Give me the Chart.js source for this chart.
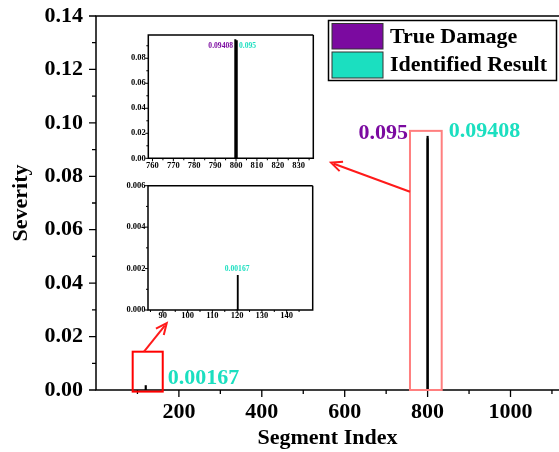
<!DOCTYPE html>
<html>
<head>
<meta charset="utf-8">
<script src="https://cdn.jsdelivr.net/npm/chart.js"></script>
<style>
  html, body { margin: 0; padding: 0; background: #fff; overflow: hidden; }
  #wrap { position: relative; width: 559px; height: 452px; }
  canvas { position: absolute; }
</style>
</head>
<body>
<div id="wrap">
  <canvas id="main" width="559" height="452" style="left:0;top:0"></canvas>
  <canvas id="inset1" width="220" height="150" style="left:105px;top:28px"></canvas>
  <canvas id="inset2" width="220" height="150" style="left:105px;top:178px"></canvas>
</div>
<script>
// data
const segments = [120, 800];
const trueDamage = [0, 0.095];
const identified = [0.00167, 0.09408];

// tick labels
const mainXTicks = [200, 400, 600, 800, 1000];
const mainXMinor = [100, 300, 500, 700, 900, 1100];
const mainYTicks = [0, 0.02, 0.04, 0.06, 0.08, 0.10, 0.12, 0.14];
const mainYMinor = [0.01, 0.03, 0.05, 0.07, 0.09, 0.11, 0.13];
const in1XTicks = [760, 770, 780, 790, 800, 810, 820, 830];
const in1XMinor = [765, 775, 785, 795, 805, 815, 825, 835];
const in1YTicks = [0, 0.02, 0.04, 0.06, 0.08];
const in1YMinor = [0.01, 0.03, 0.05, 0.07, 0.09];
const in2XTicks = [90, 100, 110, 120, 130, 140];
const in2XMinor = [85, 95, 105, 115, 125, 135, 145];
const in2YTicks = [0, 0.002, 0.004, 0.006];
const in2YMinor = [0.001, 0.003, 0.005];

const PURPLE = "#7B0AA0";
const CYAN = "#1BDFC0";
const FONT = "'Liberation Serif', 'Times New Roman', serif";

const pts = (vals) => segments.map((s, i) => ({ x: s, y: vals[i] }));

// frame lines + major/minor ticks
const frameTicks = {
  id: "frameTicks",
  afterDatasetsDraw(chart, args, o) {
    const { ctx, chartArea: a, scales: { x, y } } = chart;
    ctx.save();
    ctx.strokeStyle = "#000";
    ctx.lineWidth = o.lineWidth;
    ctx.beginPath();
    ctx.moveTo(a.right, a.top);
    ctx.lineTo(a.left, a.top);
    ctx.lineTo(a.left, a.bottom);
    ctx.lineTo(a.right, a.bottom);
    if (o.box) ctx.lineTo(a.right, a.top);
    ctx.stroke();
    ctx.lineWidth = o.tickWidth;
    ctx.beginPath();
    const tx = (vals, len) => vals.forEach((v) => {
      const p = x.getPixelForValue(v);
      if (p < a.left - 0.5 || p > a.right + 0.5) return;
      ctx.moveTo(p, a.bottom); ctx.lineTo(p, a.bottom + len);
    });
    const ty = (vals, len) => vals.forEach((v) => {
      const p = y.getPixelForValue(v);
      if (p < a.top - 0.5 || p > a.bottom + 0.5) return;
      ctx.moveTo(a.left, p); ctx.lineTo(a.left - len, p);
    });
    tx(x.ticks.map((t) => t.value), o.major);
    ty(y.ticks.map((t) => t.value), o.major);
    tx(o.xMinor, o.minor);
    ty(o.yMinor, o.minor);
    ctx.stroke();
    ctx.restore();
  },
};

function arrow(ctx, x1, y1, x2, y2) {
  const ang = Math.atan2(y2 - y1, x2 - x1);
  const hl = 11, hw = 5;
  ctx.beginPath();
  ctx.moveTo(x1, y1);
  ctx.lineTo(x2 - Math.cos(ang) * 3, y2 - Math.sin(ang) * 3);
  ctx.stroke();
  ctx.beginPath();
  ctx.moveTo(x2 - Math.cos(ang) * hl + Math.sin(ang) * hw, y2 - Math.sin(ang) * hl - Math.cos(ang) * hw);
  ctx.lineTo(x2, y2);
  ctx.lineTo(x2 - Math.cos(ang) * hl - Math.sin(ang) * hw, y2 - Math.sin(ang) * hl + Math.cos(ang) * hw);
  ctx.stroke();
}

// boxes, arrows, value labels, legend on the main chart
const mainNotes = {
  id: "mainNotes",
  afterDraw(chart) {
    const { ctx, chartArea: a, scales: { x, y } } = chart;
    ctx.save();
    // zoom boxes
    const b1 = { l: x.getPixelForValue(88.5), r: x.getPixelForValue(161), t: y.getPixelForValue(0.01434), b: y.getPixelForValue(-0.0006) };
    const b2 = { l: x.getPixelForValue(757.5), r: x.getPixelForValue(834), t: y.getPixelForValue(0.097), b: y.getPixelForValue(0) };
    ctx.lineWidth = 2;
    ctx.strokeStyle = "#ff0000";
    ctx.strokeRect(b1.l, b1.t, b1.r - b1.l, b1.b - b1.t);
    ctx.strokeStyle = "#ff7f7f";
    ctx.strokeRect(b2.l, b2.t, b2.r - b2.l, b2.b - b2.t);

    // arrows to the insets
    ctx.strokeStyle = "#ff1a1a";
    ctx.lineWidth = 2;
    arrow(ctx, b2.l, y.getPixelForValue(0.0742), x.getPixelForValue(567), y.getPixelForValue(0.0851));
    arrow(ctx, x.getPixelForValue(115.8), b1.t, x.getPixelForValue(170.6), y.getPixelForValue(0.025));

    // value labels
    ctx.font = "bold 22px " + FONT;
    ctx.textBaseline = "alphabetic";
    ctx.fillStyle = PURPLE;
    ctx.textAlign = "right";
    ctx.fillText("0.095", b2.l - 2, b2.t + 8);
    ctx.fillStyle = CYAN;
    ctx.textAlign = "left";
    ctx.fillText("0.09408", b2.r + 7, b2.t + 6);
    ctx.fillText("0.00167", b1.r + 5, a.bottom - 6.5);

    // legend
    const lx = 328.5, ly = 20.5, lw = 228, lh = 60;
    ctx.fillStyle = "#fff";
    ctx.fillRect(lx, ly, lw, lh);
    ctx.strokeStyle = "#000";
    ctx.lineWidth = 1.5;
    ctx.strokeRect(lx, ly, lw, lh);
    ctx.lineWidth = 1;
    ctx.strokeStyle = "#333";
    ctx.fillStyle = PURPLE;
    ctx.fillRect(332, 23.5, 51, 25.5);
    ctx.strokeRect(332, 23.5, 51, 25.5);
    ctx.fillStyle = CYAN;
    ctx.fillRect(332, 52, 51, 26);
    ctx.strokeRect(332, 52, 51, 26);
    ctx.fillStyle = "#000";
    ctx.textAlign = "left";
    ctx.textBaseline = "middle";
    ctx.font = "bold 22px " + FONT;
    ctx.fillText("True Damage", 390, 37.5);
    ctx.fillText("Identified Result", 390, 65.5);
    ctx.restore();
  },
};

// small value labels inside the insets
const insetNotes = {
  id: "insetNotes",
  afterDraw(chart, args, o) {
    const { ctx, scales: { x, y } } = chart;
    ctx.save();
    ctx.font = "bold 7.6px " + FONT;
    ctx.textBaseline = "middle";
    o.labels.forEach((l) => {
      ctx.fillStyle = l.color;
      ctx.textAlign = l.align;
      ctx.fillText(l.text, x.getPixelForValue(l.x) + l.dx, y.getPixelForValue(l.y) + l.dy);
    });
    ctx.restore();
  },
};

function barSets(thickness, grouped) {
  return [
    { label: "True Damage", data: pts(trueDamage), backgroundColor: "#000", borderWidth: 0,
      barThickness: thickness, maxBarThickness: thickness, grouped: grouped },
    { label: "Identified Result", data: pts(identified), backgroundColor: "#000", borderWidth: 0,
      barThickness: thickness, maxBarThickness: thickness, grouped: grouped },
  ];
}

function axis(opts) {
  return {
    type: "linear",
    min: opts.min,
    max: opts.max,
    offset: false,
    grid: { display: false, drawTicks: false },
    border: { display: false },
    afterBuildTicks: (s) => { s.ticks = opts.ticks.map((v) => ({ value: v })); },
    afterFit: (s) => {
      if (opts.width != null) s.width = opts.width;
      if (opts.height != null) s.height = opts.height;
      s.paddingTop = 0; s.paddingBottom = 0; s.paddingLeft = 0; s.paddingRight = 0;
    },
    ticks: {
      color: "#000",
      padding: opts.padding,
      maxRotation: 0,
      autoSkip: false,
      font: { family: FONT, weight: "bold", size: opts.fontSize },
      callback: (v) => opts.fmt ? Number(v).toFixed(opts.fmt) : String(v),
    },
    title: opts.title
      ? { display: true, text: opts.title, color: "#000", padding: opts.titlePad,
          font: { family: FONT, weight: "bold", size: 22 } }
      : { display: false },
  };
}

const common = {
  responsive: false,
  animation: false,
  devicePixelRatio: 1,
  events: [],
};

new Chart(document.getElementById("main"), {
  type: "bar",
  data: { datasets: barSets(1.5, false) },
  options: {
    ...common,
    layout: { padding: { top: 16, right: 0, left: 0, bottom: 0 } },
    plugins: {
      legend: { display: false }, tooltip: { enabled: false },
      frameTicks: { lineWidth: 1.5, tickWidth: 1.3, box: false, major: 7, minor: 4, xMinor: mainXMinor, yMinor: mainYMinor },
    },
    scales: {
      x: axis({ min: 0, max: 1117, ticks: mainXTicks, height: 62, padding: 9, fontSize: 22,
        title: "Segment Index", titlePad: { top: 0, bottom: 0 } }),
      y: axis({ min: 0, max: 0.14, ticks: mainYTicks, width: 96, padding: 13, fontSize: 22, fmt: 2,
        title: "Severity", titlePad: { top: 8, bottom: 0 } }),
    },
  },
  plugins: [frameTicks, mainNotes],
});

new Chart(document.getElementById("inset1"), {
  type: "bar",
  data: { datasets: barSets(1.4, true) },
  options: {
    ...common,
    layout: { padding: { top: 7, right: 11.7, left: 0, bottom: 0 } },
    plugins: {
      legend: { display: false }, tooltip: { enabled: false },
      frameTicks: { lineWidth: 1.5, tickWidth: 1, box: true, major: 3, minor: 2, xMinor: in1XMinor, yMinor: in1YMinor },
      insetNotes: { labels: [
        { text: "0.09408", x: 800, y: 0.09, dx: -3, dy: 0, align: "right", color: PURPLE },
        { text: "0.095", x: 800, y: 0.09, dx: 3, dy: 0, align: "left", color: CYAN },
      ] },
    },
    scales: {
      x: axis({ min: 758, max: 837, ticks: in1XTicks, height: 19.7, padding: 2.5, fontSize: 8.5 }),
      y: axis({ min: 0, max: 0.0986, ticks: in1YTicks, width: 43.3, padding: 2.5, fontSize: 8.5, fmt: 2 }),
    },
  },
  plugins: [frameTicks, insetNotes],
});

new Chart(document.getElementById("inset2"), {
  type: "bar",
  data: { datasets: barSets(1.2, true) },
  options: {
    ...common,
    layout: { padding: { top: 7.7, right: 12.3, left: 0, bottom: 0 } },
    plugins: {
      legend: { display: false }, tooltip: { enabled: false },
      frameTicks: { lineWidth: 1.5, tickWidth: 1, box: true, major: 3, minor: 2, xMinor: in2XMinor, yMinor: in2YMinor },
      insetNotes: { labels: [
        { text: "0.00167", x: 120, y: 0.00167, dx: 0, dy: -6, align: "center", color: CYAN },
      ] },
    },
    scales: {
      x: axis({ min: 84, max: 150.5, ticks: in2XTicks, height: 18, padding: 0.5, fontSize: 8.5 }),
      y: axis({ min: 0, max: 0.006, ticks: in2YTicks, width: 43, padding: 2.5, fontSize: 8.5, fmt: 3 }),
    },
  },
  plugins: [frameTicks, insetNotes],
});
</script>
</body>
</html>
